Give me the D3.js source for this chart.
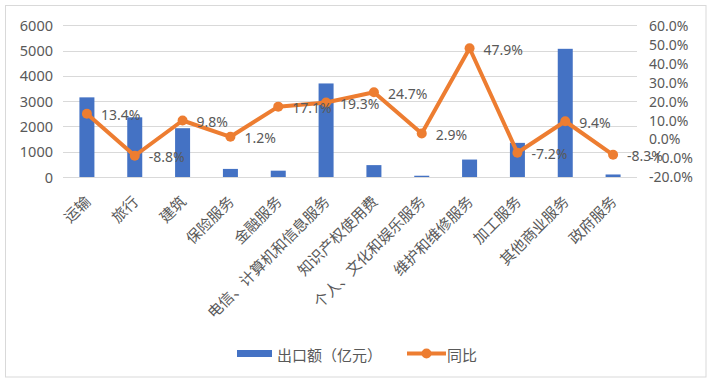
<!DOCTYPE html>
<html><head><meta charset="utf-8">
<script src="https://cdn.jsdelivr.net/npm/d3@7"></script>
<style>
html,body{margin:0;padding:0;background:#fff;}
text{font-family:"Noto Sans CJK SC","Noto Sans",sans-serif;fill:#595959;}
</style></head>
<body><svg id="c" width="714" height="387"></svg>
<script>
const categories = ["运输","旅行","建筑","保险服务","金融服务","电信、计算机和信息服务","知识产权使用费","个人、文化和娱乐服务","维护和维修服务","加工服务","其他商业服务","政府服务"];
const exportValues = [3150, 2360, 1930, 320, 250, 3700, 470, 50, 690, 1350, 5070, 100];
const yoyValues = [13.4, -8.8, 9.8, 1.2, 17.1, 19.3, 24.7, 2.9, 47.9, -7.2, 9.4, -8.3];
const leftTicks = [0, 1000, 2000, 3000, 4000, 5000, 6000];
const rightTicks = [-20, -10, 0, 10, 20, 30, 40, 50, 60];
const seriesNames = ["出口额（亿元）", "同比"];

const svg = d3.select("#c");
const m = {left: 63, right: 637, top: 25.3, bottom: 177};
const blue = "#4472C4", orange = "#ED7D31", grid = "#d9d9d9";
const numFont = '"Noto Sans","Noto Sans CJK SC",sans-serif';

svg.append("rect").attr("x",5.5).attr("y",5.5).attr("width",700.5).attr("height",371.5)
  .attr("fill","#fff").attr("stroke","#d9d9d9").attr("stroke-width",1);

const x = d3.scaleBand().domain(categories).range([m.left, m.right]);
const yL = d3.scaleLinear().domain([0, 6000]).range([m.bottom, m.top]);
const yR = d3.scaleLinear().domain([-20, 60]).range([m.bottom, m.top]);

// gridlines
svg.append("g").selectAll("line").data(leftTicks).join("line")
  .attr("x1", m.left).attr("x2", m.right)
  .attr("y1", d => Math.round(yL(d)) + 0.5).attr("y2", d => Math.round(yL(d)) + 0.5)
  .attr("stroke", grid).attr("stroke-width", 1);

// left axis
const axL = svg.append("g").attr("transform", `translate(${m.left - 10},0)`)
  .call(d3.axisLeft(yL).tickValues(leftTicks).tickSize(0).tickPadding(0).tickFormat(d3.format("d")));
axL.select(".domain").remove();
axL.selectAll("text").attr("font-size", 14.5).attr("fill", "#595959").attr("dy", "0.35em")
  .style("font-family", numFont);

// right axis
const axR = svg.append("g").attr("transform", `translate(${m.right + 12},0)`)
  .call(d3.axisRight(yR).tickValues(rightTicks).tickSize(0).tickPadding(0).tickFormat(d => d.toFixed(1) + "%"));
axR.select(".domain").remove();
axR.selectAll("text").attr("font-size", 14).attr("fill", "#595959").attr("dy", "0.35em")
  .style("font-family", numFont);

// bars
const bw = 15;
svg.append("g").selectAll("rect").data(exportValues).join("rect")
  .attr("x", (d, i) => x(categories[i]) + x.bandwidth() / 2 - bw / 2)
  .attr("width", bw)
  .attr("y", d => yL(d))
  .attr("height", d => yL(0) - yL(d))
  .attr("fill", blue);

// category labels
svg.append("g").selectAll("text").data(categories).join("text")
  .attr("transform", d => `translate(${x(d) + x.bandwidth() / 2},198) rotate(-45)`)
  .attr("text-anchor", "end").attr("dominant-baseline", "central")
  .attr("font-size", 15).text(d => d);

// line
const cx = (i) => x(categories[i]) + x.bandwidth() / 2;
const line = d3.line().x((d, i) => cx(i)).y(d => yR(d));
svg.append("path").datum(yoyValues).attr("d", line)
  .attr("fill", "none").attr("stroke", orange).attr("stroke-width", 4).attr("stroke-linejoin", "round");
svg.append("g").selectAll("circle").data(yoyValues).join("circle")
  .attr("cx", (d, i) => cx(i)).attr("cy", d => yR(d)).attr("r", 5).attr("fill", orange);

// data labels
svg.append("g").selectAll("text").data(yoyValues).join("text")
  .attr("x", (d, i) => cx(i) + 14).attr("y", d => yR(d) + 1)
  .attr("dominant-baseline", "central").attr("font-size", 14)
  .style("font-family", numFont)
  .text(d => d.toFixed(1) + "%");

// legend
const lg = svg.append("g");
lg.append("rect").attr("x", 237).attr("y", 350).attr("width", 35).attr("height", 7).attr("fill", blue);
lg.append("text").attr("x", 277).attr("y", 354).attr("dominant-baseline", "central").attr("font-size", 15).text(seriesNames[0]);
lg.append("line").attr("x1", 407).attr("x2", 446).attr("y1", 353.5).attr("y2", 353.5).attr("stroke", orange).attr("stroke-width", 4);
lg.append("circle").attr("cx", 426.5).attr("cy", 353.5).attr("r", 5).attr("fill", orange);
lg.append("text").attr("x", 447).attr("y", 354).attr("dominant-baseline", "central").attr("font-size", 15).text(seriesNames[1]);
</script></body></html>
